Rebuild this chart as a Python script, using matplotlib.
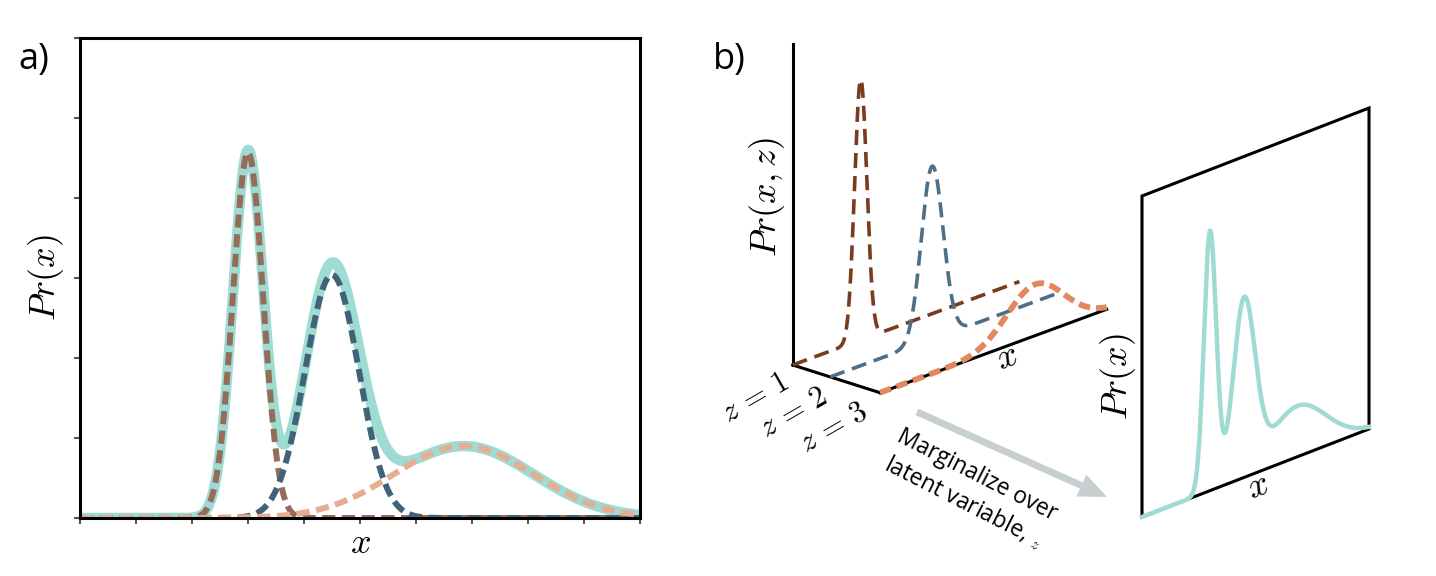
import numpy as np
import matplotlib
matplotlib.use('Agg')
import matplotlib.pyplot as plt
import matplotlib.patches as mpatches
from matplotlib.transforms import Affine2D

plt.rcParams['mathtext.fontset'] = 'cm'
plt.rcParams['font.family'] = ['Open Sans', 'DejaVu Sans']

# mixture components (x axis runs 0..10, y axis 0..6)
z_labels = [r'$z\,=\,1$', r'$z\,=\,2$', r'$z\,=\,3$']
comp_means = [3.0, 4.5, 6.85]
comp_sds = [0.27, 0.48, 1.25]
comp_peaks = [4.57, 3.04, 0.90]
z_depth = [0.0, 0.43, 1.0]   # where each slice sits along the drawn z axis

cols_a = ['#956c5a', '#41637a', '#e6ad92']
cols_b = ['#7b3b1f', '#4e6f86', '#e0895f']
teal = '#9edbd2'

x = np.linspace(0, 10, 800)
comps = [p * np.exp(-0.5 * ((x - m) / s) ** 2)
         for m, s, p in zip(comp_means, comp_sds, comp_peaks)]
mix = np.sum(comps, axis=0)

W, H = 1436, 576
fig = plt.figure(figsize=(W / 100, H / 100), dpi=100)

# ---- panel b canvas (pixel coordinates, y down) ----
axb = fig.add_axes([0, 0, 1, 1])
axb.set_xlim(0, W)
axb.set_ylim(H, 0)
axb.axis('off')

# ---- panel a ----
ax = fig.add_axes([80 / W, 1 - 518 / H, 560 / W, 480 / H])
ax.plot(x, mix, color=teal, lw=7.5, solid_capstyle='round', zorder=1)
for c, col in zip(comps, cols_a):
    ax.plot(x, c, color=col, lw=4.3, ls=(0, (2.2, 1.1)), zorder=2)
ax.set_xlim(0, 10)
ax.set_ylim(0, 6)
ax.set_xticks(range(11))
ax.set_yticks(range(7))
ax.tick_params(direction='out', length=4, width=1.5, color='#555555',
               labelbottom=False, labelleft=False)
for sp in ax.spines.values():
    sp.set_linewidth(2.2)
ax.set_xlabel('$x$', fontsize=26, labelpad=2)
ax.set_ylabel('$Pr(x)$', fontsize=26, labelpad=6)
fig.text(34 / W, 1 - 60 / H, 'a)', fontsize=26, ha='center', va='center')

# pseudo-3d geometry for panel b
b_origin = (792.7, 365.0)
x_vec = (226.7, -83.4)
z_vec = (87.3, 27.7)
h_scale = 57.0
v_top = 44.0


def slice_tf(z):
    ox = b_origin[0] + z * z_vec[0]
    oy = b_origin[1] + z * z_vec[1]
    m = np.array([[x_vec[0] / 10, 0, ox],
                  [x_vec[1] / 10, -h_scale, oy],
                  [0, 0, 1]])
    return Affine2D(m) + axb.transData


# axes of the 3d sketch
axb.plot([0, 0], [0, (b_origin[1] - v_top) / h_scale], color='black', lw=2.2,
         transform=slice_tf(0), solid_capstyle='projecting')
axb.plot([b_origin[0], b_origin[0] + z_vec[0]], [b_origin[1], b_origin[1] + z_vec[1]],
         color='black', lw=2.2, solid_capstyle='projecting')
axb.plot([0, 10], [0, 0], color='black', lw=2.2, transform=slice_tf(1),
         solid_capstyle='projecting')

dash_b = [(0, (4.2, 2.2)), (0, (4.2, 2.2)), (0, (2.0, 1.0))]
lw_b = [2.6, 2.6, 4.2]
for c, col, zd, ls, lw in zip(comps, cols_b, z_depth, dash_b, lw_b):
    axb.plot(x, c, color=col, lw=lw, ls=ls, transform=slice_tf(zd), zorder=3)

axb.text(767, 197, '$Pr(x,z)$', fontsize=26, rotation=90, ha='center', va='center')
axb.text(1007, 358, '$x$', fontsize=26, rotation=20, ha='center', va='center')
z_pos = [(755, 398), (794, 413), (834, 428)]
for lab, (tx, ty) in zip(z_labels, z_pos):
    axb.text(tx, ty, lab, fontsize=22, rotation=30, ha='center', va='center')
axb.text(729, 60, 'b)', fontsize=26, ha='center', va='center')

# arrow + caption
axb.add_patch(mpatches.FancyArrow(917, 412, 190, 85, width=7, head_width=24,
                                  head_length=28, length_includes_head=True,
                                  color='#c8cfd0', lw=0))
axb.text(970, 489, 'Marginalize over\nlatent variable, ${}_{z}$', fontsize=16.5,
         rotation=-27, ha='center', va='center', linespacing=1.25,
         rotation_mode='anchor')

# marginal panel
r_origin = (1142.0, 517.0)
r_vec = (227.0, -88.0)
r_scale = 56.5
r_height = 321.0
tf_r = Affine2D(np.array([[r_vec[0] / 10, 0, r_origin[0]],
                          [r_vec[1] / 10, -r_scale, r_origin[1]],
                          [0, 0, 1]])) + axb.transData
box_h = r_height / r_scale
axb.add_patch(mpatches.Polygon([[0, 0], [10, 0], [10, box_h], [0, box_h]], closed=True,
                               fill=False, lw=2.2, ec='black', transform=tf_r,
                               joinstyle='miter'))
axb.plot(x, mix, color=teal, lw=3.2, transform=tf_r, zorder=3)
axb.text(1118, 377, '$Pr(x)$', fontsize=26, rotation=90, ha='center', va='center')
axb.text(1258, 487, '$x$', fontsize=26, rotation=20, ha='center', va='center')

fig.savefig('out.png', dpi=100)
